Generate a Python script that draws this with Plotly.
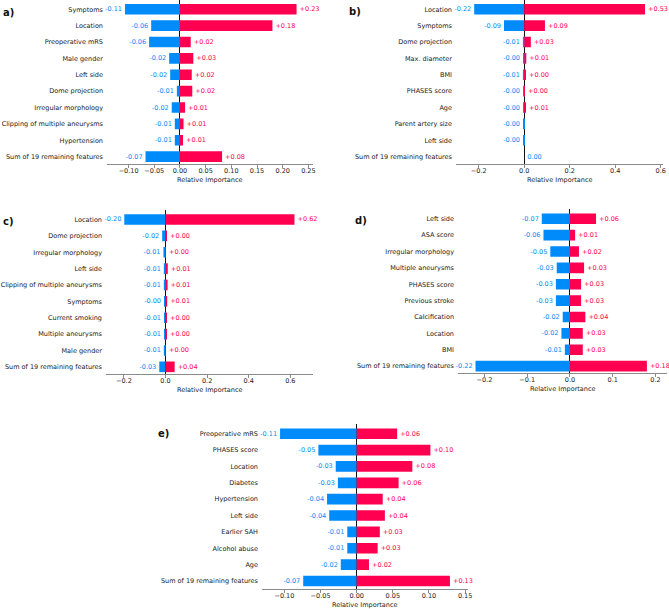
import plotly.graph_objects as go

W, H = 669, 609
BLUE = "#008bfb"
RED = "#ff0051"
FONT = "DejaVu Sans"
FS = 6.5

# ---------------- data ----------------
a_features = ["Symptoms", "Location", "Preoperative mRS", "Male gender", "Left side",
              "Dome projection", "Irregular morphology", "Clipping of multiple aneurysms",
              "Hypertension", "Sum of 19 remaining features"]
a_neg = [-0.107, -0.056, -0.060, -0.021, -0.019, -0.006, -0.016, -0.010, -0.010, -0.067]
a_pos = [0.227, 0.180, 0.021, 0.026, 0.023, 0.024, 0.010, 0.007, 0.006, 0.082]

b_features = ["Location", "Symptoms", "Dome projection", "Max. diameter", "BMI",
              "PHASES score", "Age", "Parent artery size", "Left side",
              "Sum of 19 remaining features"]
b_neg = [-0.220, -0.089, -0.006, -0.002, -0.006, -0.002, -0.002, -0.003, -0.002, 0.0]
b_pos = [0.531, 0.091, 0.029, 0.009, 0.004, 0.002, 0.006, 0.0, 0.0, 0.0]

c_features = ["Location", "Dome projection", "Irregular morphology", "Left side",
              "Clipping of multiple aneurysms", "Symptoms", "Current smoking",
              "Multiple aneurysms", "Male gender", "Sum of 19 remaining features"]
c_neg = [-0.198, -0.016, -0.010, -0.008, -0.008, -0.004, -0.006, -0.006, -0.008, -0.030]
c_pos = [0.620, 0.003, 0.002, 0.011, 0.010, 0.008, 0.003, 0.003, 0.002, 0.044]

d_features = ["Left side", "ASA score", "Irregular morphology", "Multiple aneurysms",
              "PHASES score", "Previous stroke", "Calcification", "Location", "BMI",
              "Sum of 19 remaining features"]
d_neg = [-0.066, -0.062, -0.046, -0.031, -0.033, -0.033, -0.017, -0.020, -0.012, -0.221]
d_pos = [0.061, 0.012, 0.021, 0.033, 0.026, 0.026, 0.036, 0.030, 0.030, 0.180]

e_features = ["Preoperative mRS", "PHASES score", "Location", "Diabetes", "Hypertension",
              "Left side", "Earlier SAH", "Alcohol abuse", "Age",
              "Sum of 19 remaining features"]
e_neg = [-0.106, -0.053, -0.029, -0.026, -0.041, -0.038, -0.013, -0.013, -0.022, -0.074]
e_pos = [0.056, 0.102, 0.077, 0.058, 0.036, 0.039, 0.032, 0.029, 0.017, 0.129]

panel_letters = ["a)", "b)", "c)", "d)", "e)"]
x_label = "Relative Importance"

# ---------------- layout geometry (pixels) ----------------
panels = [
    (a_features, a_neg, a_pos, 107, 313, 9.3, 164.3, [-0.142, 0.259], 0.05, ".2f", 8.5, 13),
    (b_features, b_neg, b_pos, 456, 663, 9.3, 164.3, [-0.30, 0.61], 0.2, ".1f", 355, 12),
    (c_features, c_neg, c_pos, 106, 313, 219.5, 374.0, [-0.286, 0.709], 0.2, ".1f", 8.5, 221),
    (d_features, d_neg, d_pos, 458, 667, 218.8, 373.3, [-0.262, 0.227], 0.1, ".1f", 361, 220),
    (e_features, e_neg, e_pos, 262, 468, 433.7, 589.3, [-0.131, 0.154], 0.05, ".2f", 163, 433),
]
SPACING = 16.37
TOP_PAD = 0.6

def neg_text(v):
    return "0.00" if v == 0 else f"{v:.2f}"

def pos_text(v):
    return "" if v == 0 else f"+{v:.2f}"

fig = go.Figure()
layout = dict(width=W, height=H, margin=dict(l=0, r=0, t=0, b=0, autoexpand=False),
              paper_bgcolor="white", plot_bgcolor="white", showlegend=False,
              font=dict(family=FONT, size=FS, color="#222"),
              barmode="overlay")
annotations = []

for i, (feats, neg, pos, x0, x1, cy, ay, xr, dt, tf, lx, ly) in enumerate(panels):
    n = i + 1
    xa = "x" if n == 1 else f"x{n}"
    ya = "y" if n == 1 else f"y{n}"
    idx = list(range(len(feats)))
    top_px = max(0.0, cy - TOP_PAD * SPACING)
    top_val = -(cy - top_px) / SPACING
    bot_val = (ay - cy) / SPACING
    for vals, col, txt in ((neg, BLUE, [neg_text(v) for v in neg]),
                           (pos, RED, [pos_text(v) for v in pos])):
        fig.add_trace(go.Bar(
            x=vals, y=idx, orientation="h", xaxis=xa, yaxis=ya,
            marker=dict(color=col, line=dict(width=0)), width=0.65,
            text=txt, textposition="outside", cliponaxis=False,
            constraintext="none",
            textfont=dict(color=col, size=FS, family=FONT),
            hoverinfo="skip"))
    xkey = "xaxis" if n == 1 else f"xaxis{n}"
    ykey = "yaxis" if n == 1 else f"yaxis{n}"
    layout[xkey] = dict(
        domain=[x0 / W, x1 / W], anchor=ya, range=xr, dtick=dt, tick0=0,
        tickformat=tf, showgrid=False, zeroline=True, zerolinecolor="#111",
        zerolinewidth=1, showline=True, linecolor="#8a8a8a", linewidth=1,
        ticks="outside", ticklen=3, tickcolor="#8a8a8a", tickwidth=1,
        ticklabelstandoff=-3,
        tickfont=dict(size=FS, color="#222", family=FONT),
        automargin=False, fixedrange=True)
    layout[ykey] = dict(
        domain=[1 - ay / H, 1 - top_px / H], anchor=xa,
        range=[bot_val, top_val], tickvals=idx, ticktext=feats,
        showgrid=False, zeroline=False, showline=False, ticks="",
        ticklabelstandoff=3,
        tickfont=dict(size=FS, color="#222", family=FONT),
        automargin=False, fixedrange=True)
    annotations.append(dict(text=f"<b>{panel_letters[i]}</b>", x=lx / W, y=1 - ly / H,
                            xref="paper", yref="paper", showarrow=False,
                            font=dict(size=10, color="#111", family=FONT),
                            xanchor="center", yanchor="middle"))
    annotations.append(dict(text=x_label, x=0.5, xref=f"{xa} domain",
                            y=1 - (ay + 15.5) / H, yref="paper", showarrow=False,
                            font=dict(size=FS, color="#222", family=FONT),
                            xanchor="center", yanchor="middle"))

layout["annotations"] = annotations
fig.update_layout(**layout)
fig.write_html("out.html", config={"displayModeBar": False},
               post_script="document.body.style.margin='0';document.body.style.overflow='hidden';")
